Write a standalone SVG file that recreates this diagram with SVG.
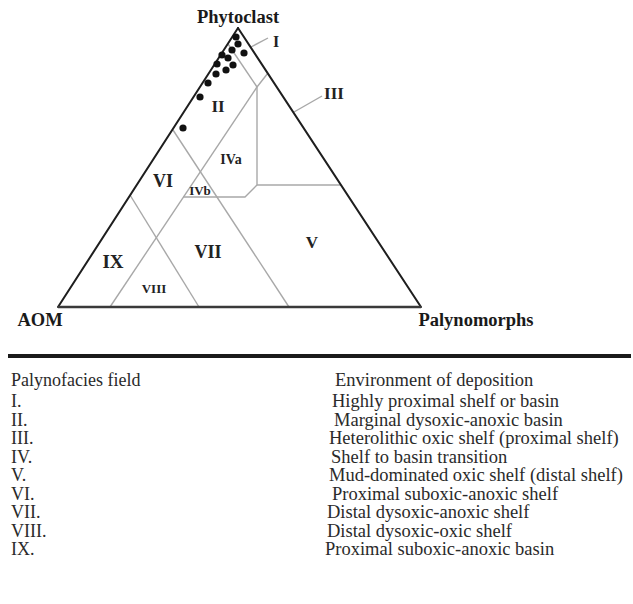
<svg xmlns="http://www.w3.org/2000/svg" width="633" height="604" viewBox="0 0 633 604">
<style>
.edge{stroke:#1e1e1e;stroke-width:2;fill:none;stroke-linecap:round}
.base{stroke:#3a3a3a;stroke-width:2.6;fill:none}
.field{stroke:#a8a8a8;stroke-width:1.4;fill:none}
.dot{fill:#111}
.ax{font-family:"Liberation Serif",serif;font-weight:bold;fill:#1a1a1a}
.fl{font-family:"Liberation Serif",serif;font-weight:bold;fill:#222;text-anchor:middle}
.tb{font-family:"Liberation Serif",serif;font-size:18px;fill:#2a2a2a}
.tr{font-family:"Liberation Serif",serif;font-size:18.5px;fill:#2a2a2a}
</style>
<rect width="633" height="604" fill="#fff"/>
<g id="connectors">
  <g id="field-boundaries">
    <line class="field" x1="228" y1="44" x2="257" y2="87"/>
    <line class="field" x1="257" y1="87" x2="268" y2="73"/>
    <line class="field" x1="257" y1="87" x2="257" y2="185"/>
    <line class="field" x1="257" y1="185" x2="341" y2="185"/>
    <line class="field" x1="257" y1="87" x2="110" y2="307"/>
    <polyline class="field" points="183,197 245,197 257,185"/>
    <line class="field" x1="130" y1="195" x2="199" y2="307"/>
    <line class="field" x1="173" y1="130" x2="289" y2="307"/>
    <line class="field" x1="251" y1="47" x2="268" y2="38"/>
    <line class="field" x1="294" y1="112" x2="322" y2="96"/>
  </g>
  <g id="triangle">
    <line class="edge" x1="238" y1="28" x2="58" y2="307"/>
    <line class="edge" x1="238" y1="28" x2="421" y2="307"/>
    <line class="base" x1="58" y1="307" x2="421" y2="307"/>
  </g>
</g>
<g id="data-points">
  <circle class="dot" cx="236" cy="37" r="3.6"/>
  <circle class="dot" cx="238" cy="44" r="3.6"/>
  <circle class="dot" cx="232" cy="50" r="3.6"/>
  <circle class="dot" cx="244" cy="53" r="3.6"/>
  <circle class="dot" cx="222" cy="55" r="3.6"/>
  <circle class="dot" cx="228" cy="58" r="3.6"/>
  <circle class="dot" cx="217" cy="64" r="3.6"/>
  <circle class="dot" cx="233" cy="65" r="3.6"/>
  <circle class="dot" cx="226" cy="70" r="3.6"/>
  <circle class="dot" cx="216" cy="74" r="3.6"/>
  <circle class="dot" cx="208" cy="83" r="3.6"/>
  <circle class="dot" cx="200" cy="97" r="3.6"/>
  <circle class="dot" cx="183" cy="128" r="3.6"/>
</g>
<g id="axis-labels">
  <g id="node-phytoclast"><text class="ax" x="238" y="23" font-size="18.5" text-anchor="middle">Phytoclast</text></g>
  <g id="node-aom"><text class="ax" x="40" y="326" font-size="18.5" text-anchor="middle">AOM</text></g>
  <g id="node-palynomorphs"><text class="ax" x="476" y="326" font-size="18.5" text-anchor="middle">Palynomorphs</text></g>
</g>
<g id="field-labels">
  <g id="node-I"><text class="fl" x="276" y="47" font-size="16">I</text></g>
  <g id="node-II"><text class="fl" x="218" y="112" font-size="17">II</text></g>
  <g id="node-III"><text class="fl" x="334" y="99" font-size="17">III</text></g>
  <g id="node-IVa"><text class="fl" x="231" y="164" font-size="14">IVa</text></g>
  <g id="node-IVb"><text class="fl" x="200" y="195" font-size="13">IVb</text></g>
  <g id="node-V"><text class="fl" x="312" y="248" font-size="17">V</text></g>
  <g id="node-VI"><text class="fl" x="163" y="187" font-size="18">VI</text></g>
  <g id="node-VII"><text class="fl" x="208" y="258" font-size="18">VII</text></g>
  <g id="node-VIII"><text class="fl" x="154" y="293" font-size="13">VIII</text></g>
  <g id="node-IX"><text class="fl" x="113" y="268" font-size="19">IX</text></g>
</g>
<g id="legend">
  <line x1="8" y1="356" x2="631" y2="356" stroke="#1a1a1a" stroke-width="4"/>
  <text class="tb" x="11" y="386">Palynofacies field</text>
  <text class="tr" x="335" y="386">Environment of deposition</text>
  <g class="tb">
    <text x="11" y="407">I.</text>
    <text x="11" y="425.5">II.</text>
    <text x="11" y="444">III.</text>
    <text x="11" y="462.5">IV.</text>
    <text x="11" y="481">V.</text>
    <text x="11" y="499.5">VI.</text>
    <text x="11" y="518">VII.</text>
    <text x="11" y="536.5">VIII.</text>
    <text x="11" y="555">IX.</text>
  </g>
  <g class="tr">
    <text x="332" y="407">Highly proximal shelf or basin</text>
    <text x="334" y="425.5">Marginal dysoxic-anoxic basin</text>
    <text x="329" y="444">Heterolithic oxic shelf (proximal shelf)</text>
    <text x="331" y="462.5">Shelf to basin transition</text>
    <text x="329" y="481">Mud-dominated oxic shelf (distal shelf)</text>
    <text x="332" y="499.5">Proximal suboxic-anoxic shelf</text>
    <text x="327" y="518">Distal dysoxic-anoxic shelf</text>
    <text x="327" y="536.5">Distal dysoxic-oxic shelf</text>
    <text x="325" y="555">Proximal suboxic-anoxic basin</text>
  </g>
</g>
</svg>
